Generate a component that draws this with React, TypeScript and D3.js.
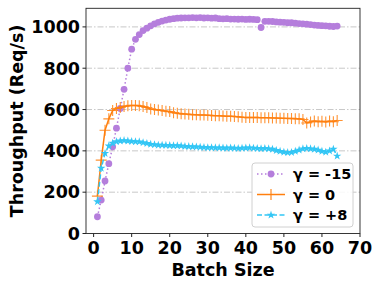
import { useRef, useEffect } from "react";
import * as d3 from "d3";

const batchSizes = [
  1, 2, 3, 4, 5, 6, 7, 8, 9, 10, 11, 12, 13, 14, 15, 16, 17, 18, 19, 20, 21, 22,
  23, 24, 25, 26, 27, 28, 29, 30, 31, 32, 33, 34, 35, 36, 37, 38, 39, 40, 41, 42,
  43, 44, 45, 46, 47, 48, 49, 50, 51, 52, 53, 54, 55, 56, 57, 58, 59, 60, 61, 62,
  63, 64,
];

const gammaNeg15 = [
  81, 162, 254, 338, 420, 510, 605, 698, 800, 892, 940, 963, 982, 994, 1005,
  1015, 1022, 1028, 1033, 1037, 1040, 1042, 1043, 1044, 1044, 1045, 1044, 1045,
  1043, 1044, 1042, 1043, 1040, 1039, 1040, 1038, 1038, 1037, 1038, 1036, 1037,
  1036, 1035, 997, 1027, 1027, 1026, 1024, 1023, 1022, 1020, 1020, 1018, 1016,
  1015, 1013, 1011, 1009, 1007, 1006, 1005, 1003, 1002, 1004,
];

const gamma0 = [
  181, 355, 500, 555, 595, 605, 610, 615, 618, 620, 620, 618, 615, 610, 603, 600,
  598, 595, 592, 590, 585, 582, 580, 578, 577, 575, 575, 574, 573, 572, 571, 570,
  570, 569, 568, 567, 566, 565, 563, 562, 561, 562, 561, 560, 560, 560, 559, 559,
  558, 558, 557, 557, 556, 555, 552, 535, 540, 545, 541, 543, 540, 544, 541, 547,
];

const gammaPos8 = [
  154, 316, 388, 424, 437, 445, 448, 450, 448, 446, 445, 444, 440, 436, 432, 430,
  428, 428, 427, 426, 425, 425, 424, 422, 421, 420, 419, 418, 417, 416, 416, 415,
  415, 414, 413, 414, 413, 412, 413, 414, 415, 413, 412, 411, 412, 410, 408, 402,
  398, 394, 392, 393, 398, 404, 410, 412, 410, 408, 404, 398, 394, 400, 408, 375,
];

const yTicks = [0, 200, 400, 600, 800, 1000];
const xTicks = [0, 10, 20, 30, 40, 50, 60, 70];
const legendLabels = ["γ = -15", "γ = 0", "γ = +8"];

const PURPLE = "#b57edc";
const ORANGE = "#ff7f0e";
const CYAN = "#33c6f5";
const FONT = "'DejaVu Sans', sans-serif";
const FS = 17.5;

export default function App() {
  const svgRef = useRef<SVGSVGElement>(null);

  useEffect(() => {
    if (!svgRef.current) return;
    const width = 382;
    const height = 287;
    const svg = d3.select(svgRef.current).attr("width", width).attr("height", height);
    svg.selectAll("*").remove();

    const x = d3.scaleLinear().domain([-2, 70]).range([86, 360]);
    const y = d3.scaleLinear().domain([0, 1090]).range([233.5, 8.3]);

    // grid
    svg
      .append("g")
      .selectAll("line")
      .data(yTicks.filter((t) => t > 0))
      .join("line")
      .attr("x1", x(-2))
      .attr("x2", x(70))
      .attr("y1", (d) => y(d))
      .attr("y2", (d) => y(d))
      .attr("stroke", "#c8c8c8")
      .attr("stroke-width", 1)
      .attr("stroke-dasharray", "6,2,1.5,2");

    const line = d3
      .line<number>()
      .x((_, i) => x(batchSizes[i]))
      .y((d) => y(d));

    // γ = -15 : dotted + circles
    svg
      .append("path")
      .attr("d", line(gammaNeg15))
      .attr("fill", "none")
      .attr("stroke", PURPLE)
      .attr("stroke-width", 1.5)
      .attr("stroke-dasharray", "1.5,2.5");
    svg
      .append("g")
      .selectAll("circle")
      .data(gammaNeg15)
      .join("circle")
      .attr("cx", (_, i) => x(batchSizes[i]))
      .attr("cy", (d) => y(d))
      .attr("r", 3.4)
      .attr("fill", PURPLE);

    // γ = 0 : solid + plus markers
    svg
      .append("path")
      .attr("d", line(gamma0))
      .attr("fill", "none")
      .attr("stroke", ORANGE)
      .attr("stroke-width", 1.5);
    const plus = (cx: number, cy: number, s: number) =>
      `M${cx - s},${cy}H${cx + s}M${cx},${cy - s}V${cy + s}`;
    svg
      .append("path")
      .attr("d", gamma0.map((d, i) => plus(x(batchSizes[i]), y(d), 5.5)).join(""))
      .attr("fill", "none")
      .attr("stroke", ORANGE)
      .attr("stroke-opacity", 0.85)
      .attr("stroke-width", 1.1);

    // γ = +8 : dashed + stars
    svg
      .append("path")
      .attr("d", line(gammaPos8))
      .attr("fill", "none")
      .attr("stroke", CYAN)
      .attr("stroke-width", 1.5)
      .attr("stroke-dasharray", "5,2.5");
    const star = d3.symbol(d3.symbolStar, 22);
    svg
      .append("g")
      .selectAll("path")
      .data(gammaPos8)
      .join("path")
      .attr("transform", (d, i) => `translate(${x(batchSizes[i])},${y(d)})`)
      .attr("d", star())
      .attr("fill", CYAN);

    // frame
    svg
      .append("rect")
      .attr("x", x(-2))
      .attr("y", y(1090))
      .attr("width", x(70) - x(-2))
      .attr("height", y(0) - y(1090))
      .attr("fill", "none")
      .attr("stroke", "#222")
      .attr("stroke-width", 0.9);

    // y axis ticks
    const yAxis = svg.append("g");
    yAxis
      .selectAll("line")
      .data(yTicks)
      .join("line")
      .attr("x1", x(-2) - 3.5)
      .attr("x2", x(-2))
      .attr("y1", (d) => y(d))
      .attr("y2", (d) => y(d))
      .attr("stroke", "#222");
    yAxis
      .selectAll("text")
      .data(yTicks)
      .join("text")
      .attr("x", x(-2) - 6)
      .attr("y", (d) => y(d))
      .attr("dy", "0.36em")
      .attr("text-anchor", "end")
      .attr("font-family", FONT)
      .attr("font-weight", "bold")
      .attr("font-size", FS)
      .text((d) => d);

    // x axis ticks
    const xAxis = svg.append("g");
    xAxis
      .selectAll("line")
      .data(xTicks)
      .join("line")
      .attr("x1", (d) => x(d))
      .attr("x2", (d) => x(d))
      .attr("y1", y(0))
      .attr("y2", y(0) + 3.5)
      .attr("stroke", "#222");
    xAxis
      .selectAll("text")
      .data(xTicks)
      .join("text")
      .attr("x", (d) => x(d))
      .attr("y", 254)
      .attr("text-anchor", "middle")
      .attr("font-family", FONT)
      .attr("font-weight", "bold")
      .attr("font-size", FS)
      .text((d) => d);

    svg
      .append("text")
      .attr("x", (x(-2) + x(70)) / 2)
      .attr("y", 275.5)
      .attr("text-anchor", "middle")
      .attr("font-family", FONT)
      .attr("font-weight", "bold")
      .attr("font-size", FS)
      .text("Batch Size");

    svg
      .append("text")
      .attr("transform", `translate(23,${(y(0) + y(1090)) / 2}) rotate(-90)`)
      .attr("text-anchor", "middle")
      .attr("font-family", FONT)
      .attr("font-weight", "bold")
      .attr("font-size", FS)
      .text("Throughput (Req/s)");

    // legend
    const lg = svg.append("g").attr("transform", "translate(252,163)");
    lg.append("rect")
      .attr("width", 101)
      .attr("height", 64)
      .attr("rx", 3)
      .attr("fill", "white")
      .attr("fill-opacity", 0.85)
      .attr("stroke", "#d0d0d0");
    const colors = [PURPLE, ORANGE, CYAN];
    const dashes = ["1.5,2.5", null, "5,2.5"];
    legendLabels.forEach((label, i) => {
      const cy = 11 + i * 20.5;
      lg.append("line")
        .attr("x1", 5)
        .attr("x2", 33)
        .attr("y1", cy)
        .attr("y2", cy)
        .attr("stroke", colors[i])
        .attr("stroke-width", 1.5)
        .attr("stroke-dasharray", dashes[i]);
      if (i === 0) {
        lg.append("circle").attr("cx", 19).attr("cy", cy).attr("r", 3.4).attr("fill", PURPLE);
      } else if (i === 1) {
        lg.append("path")
          .attr("d", plus(19, cy, 5.5))
          .attr("stroke", ORANGE)
          .attr("stroke-width", 1.1);
      } else {
        lg.append("path")
          .attr("transform", `translate(19,${cy})`)
          .attr("d", star())
          .attr("fill", CYAN);
      }
      lg.append("text")
        .attr("x", 41)
        .attr("y", cy)
        .attr("dy", "0.36em")
        .attr("font-family", FONT)
        .attr("font-weight", "bold")
        .attr("font-size", 14.5)
        .text(label);
    });
  }, []);

  return (
    <div style={{ position: "absolute", left: 0, top: 0 }}>
      <svg ref={svgRef} style={{ display: "block" }} />
    </div>
  );
}
